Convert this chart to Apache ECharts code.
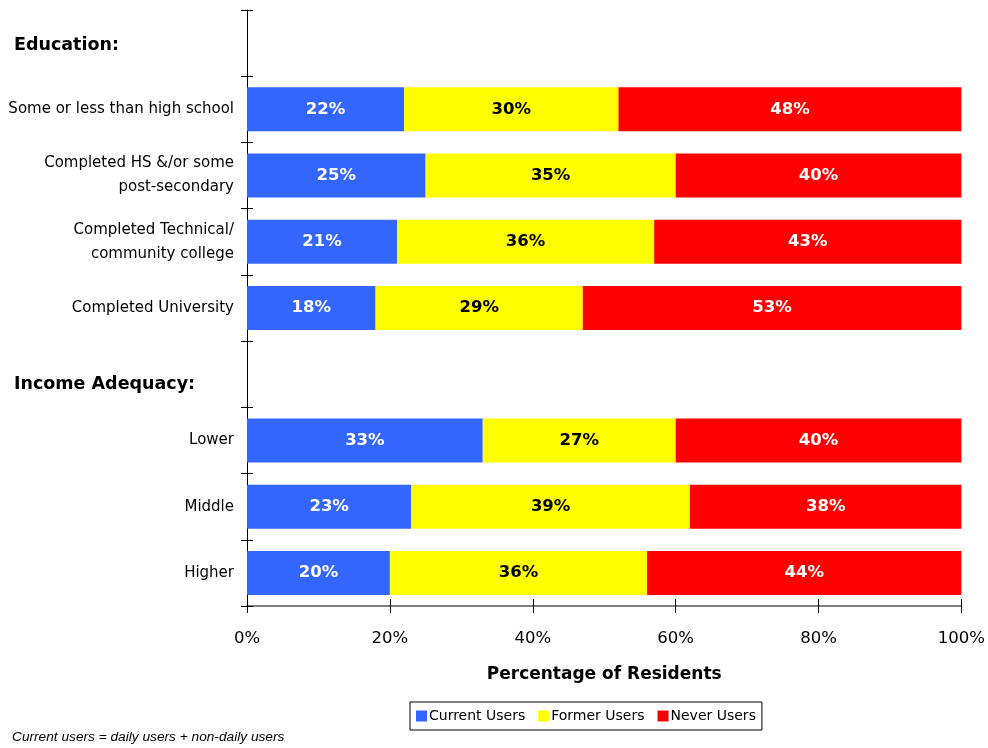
<!DOCTYPE html>
<html><head><meta charset="utf-8">
<script src="https://cdn.jsdelivr.net/npm/echarts@6/dist/echarts.min.js"></script>
<style>html,body{margin:0;padding:0;background:#fff}#c{width:988px;height:748px}</style>
</head><body><div id="c"></div>
<script>
const categories = ['Education:', 'Some or less than high school', 'Completed HS &/or some\npost-secondary', 'Completed Technical/\ncommunity college', 'Completed University', 'Income Adequacy:', 'Lower', 'Middle', 'Higher'];
const headers = ['Education:', 'Income Adequacy:'];
const currentUsers = [null, 22, 25, 21, 18, null, 33, 23, 20];
const formerUsers = [null, 30, 35, 36, 29, null, 27, 39, 36];
const neverUsers = [null, 48, 40, 43, 53, null, 40, 38, 44];
const xTicks = [0, 20, 40, 60, 80, 100];

const FONT = 'DejaVu Sans';
const chart = echarts.init(document.getElementById('c'));
function mk(name, data, color, txt) {
  return {
    name, type: 'bar', stack: 'a', data, barWidth: 44,
    itemStyle: { color },
    label: { show: true, position: 'inside', formatter: p => p.value + '%', color: txt,
      fontWeight: 'bold', fontSize: 16.5, fontFamily: FONT },
    emphasis: { disabled: true }
  };
}
chart.setOption({
  animation: false,
  textStyle: { fontFamily: FONT },
  grid: { left: 247, right: 25, top: 10, bottom: 142, containLabel: false },
  xAxis: [{
    type: 'value', min: 0, max: 100, interval: 20,
    axisLine: { show: true, lineStyle: { color: '#808080', width: 2 } },
    axisTick: { show: true, length: 7, lineStyle: { color: '#000' } },
    splitLine: { show: false },
    axisLabel: { margin: 24, fontSize: 16.5, color: '#000', formatter: v => v + '%' },
    name: 'Percentage of Residents', nameLocation: 'middle', nameGap: 60,
    nameTextStyle: { fontSize: 17, fontWeight: 'bold', color: '#000' }
  }, {
    type: 'value', min: 0, max: 100, interval: 20, position: 'bottom',
    axisLine: { show: false },
    axisTick: { show: true, inside: true, length: 7, lineStyle: { color: '#000' } },
    axisLabel: { show: false }, splitLine: { show: false }
  }],
  yAxis: [{
    type: 'category', data: categories, inverse: true,
    axisLine: { show: true, lineStyle: { color: '#000', width: 1 } },
    axisTick: { show: true, length: 6, lineStyle: { color: '#000' } },
    axisLabel: {
      margin: 13, fontSize: 15, color: '#000', lineHeight: 24,
      formatter: v => v === headers[0] ? '{h1|' + v + '}' : (v === headers[1] ? '{h2|' + v + '}' : v),
      rich: {
        h1: { fontSize: 17.5, fontWeight: 'bold', color: '#000', width: 220, align: 'left', padding: [4, 0, 0, 0] },
        h2: { fontSize: 17.5, fontWeight: 'bold', color: '#000', width: 220, align: 'left', padding: [20, 0, 0, 0] }
      }
    }
  }, {
    type: 'category', data: categories, inverse: true, position: 'left',
    axisLine: { show: false },
    axisTick: { show: true, inside: true, length: 6, lineStyle: { color: '#000' } },
    axisLabel: { show: false }
  }],
  legend: {
    left: 410, top: 702, itemWidth: 11, itemHeight: 11, itemGap: 13,
    padding: [7, 6, 7, 6], borderColor: '#000', borderWidth: 1,
    textStyle: { fontSize: 14, color: '#000', padding: [0, 0, 0, -3] },
    icon: 'rect'
  },
  graphic: [{ type: 'text', left: 12, top: 730,
    style: { text: 'Current users = daily users + non-daily users', fontSize: 13.7, fontStyle: 'italic', fontFamily: 'Liberation Sans', fill: '#000' } }],
  series: [
    mk('Current Users', currentUsers, '#3366FF', '#fff'),
    mk('Former Users', formerUsers, '#FFFF00', '#000'),
    mk('Never Users', neverUsers, '#FF0000', '#fff')
  ]
});
</script></body></html>
